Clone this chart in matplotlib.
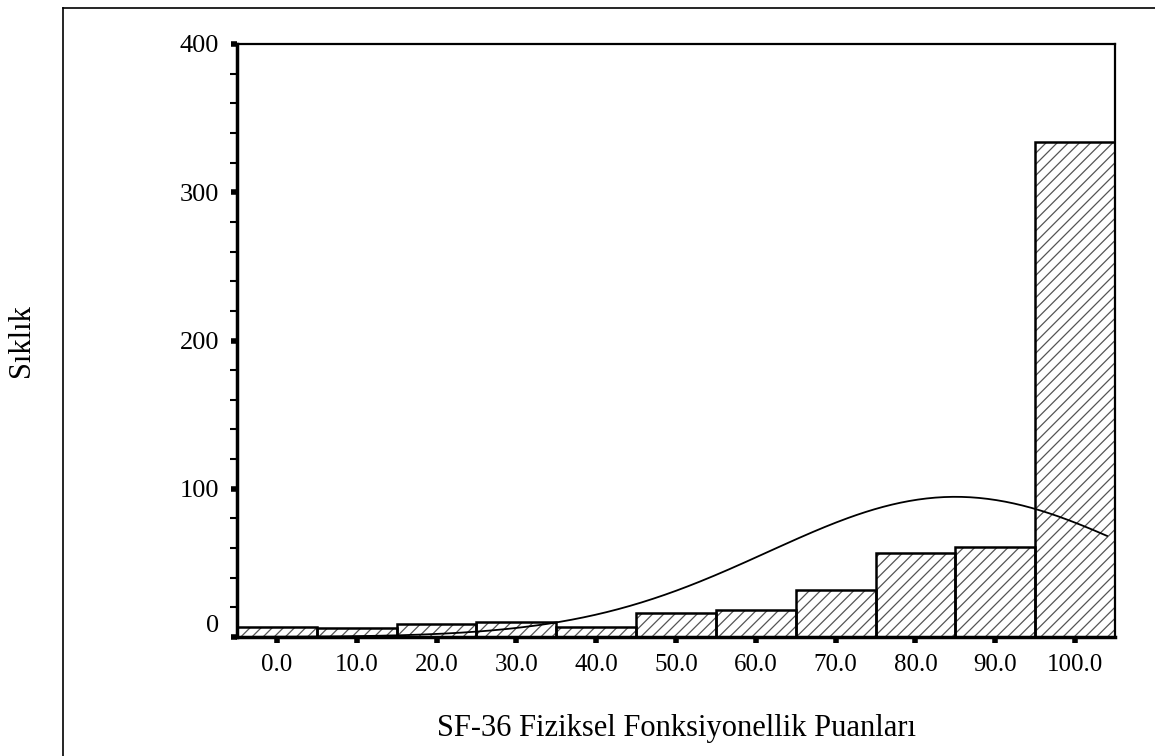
import numpy as np
import matplotlib
matplotlib.use("Agg")
import matplotlib.pyplot as plt
from matplotlib.lines import Line2D

# histogram bins (centres) and counts
bin_centers = [0, 10, 20, 30, 40, 50, 60, 70, 80, 90, 100]
counts = [7, 6, 9, 10, 7, 16, 18, 32, 57, 61, 334]
tick_labels = ["0.0", "10.0", "20.0", "30.0", "40.0", "50.0",
               "60.0", "70.0", "80.0", "90.0", "100.0"]
bin_width = 10

# fitted normal curve parameters (SPSS overlay)
curve_mean = 85.0
curve_sd = 23.5
curve_range = (-5, 104)

plt.rcParams['font.family'] = ['Liberation Serif', 'DejaVu Serif']
plt.rcParams['hatch.linewidth'] = 0.9

fig = plt.figure(figsize=(11.55, 7.56), dpi=100)
ax_left, ax_bottom, ax_w, ax_h = 0.2052, 0.1574, 0.7602, 0.7844
ax = fig.add_axes([ax_left, ax_bottom, ax_w, ax_h])

# hatch layer (grey) then black outlines on top
ax.bar(bin_centers, counts, width=bin_width, color='white',
       edgecolor='#555555', linewidth=0, hatch='///', zorder=2)
ax.bar(bin_centers, counts, width=bin_width, fill=False,
       edgecolor='black', linewidth=1.8, zorder=3)

n_total = sum(counts)
xs = np.linspace(curve_range[0], curve_range[1], 300)
ys = n_total * bin_width / (curve_sd * np.sqrt(2 * np.pi)) * \
    np.exp(-0.5 * ((xs - curve_mean) / curve_sd) ** 2)
ax.plot(xs, ys, color='black', linewidth=1.3, zorder=4)

ax.set_xlim(-5, 105)
ax.set_ylim(0, 400)

ax.set_xticks(bin_centers)
ax.set_xticklabels(tick_labels, fontsize=18)
ax.set_yticks([0, 100, 200, 300, 400])
ax.set_yticklabels(["0", "100", "200", "300", "400"], fontsize=19)
ax.set_yticks(np.arange(0, 401, 20), minor=True)

ax.tick_params(axis='y', which='major', direction='out', length=4,
               width=4, pad=9)
ax.tick_params(axis='y', which='minor', direction='out', length=5,
               width=1.5)
ax.tick_params(axis='x', which='major', direction='out', length=4,
               width=4, pad=8)
ax.yaxis.get_majorticklabels()[0].set_va('bottom')

for side in ['left', 'bottom']:
    ax.spines[side].set_linewidth(2.5)
for side in ['top', 'right']:
    ax.spines[side].set_linewidth(1.6)

fig.text(ax_left + ax_w / 2, 0.037, "SF-36 Fiziksel Fonksiyonellik Puanları",
         fontsize=22, ha='center', va='center')
fig.text(0.019, 0.55, "Sıklık", rotation=90, fontsize=22,
         ha='center', va='center')

# outer frame (only left and top edges visible in the crop)
fig.add_artist(Line2D([0.0545, 0.0545], [0.0, 0.9894],
                      transform=fig.transFigure, color='black', linewidth=1.2))
fig.add_artist(Line2D([0.0545, 1.0], [0.9894, 0.9894],
                      transform=fig.transFigure, color='black', linewidth=1.2))

fig.savefig("out.png", dpi=100)
